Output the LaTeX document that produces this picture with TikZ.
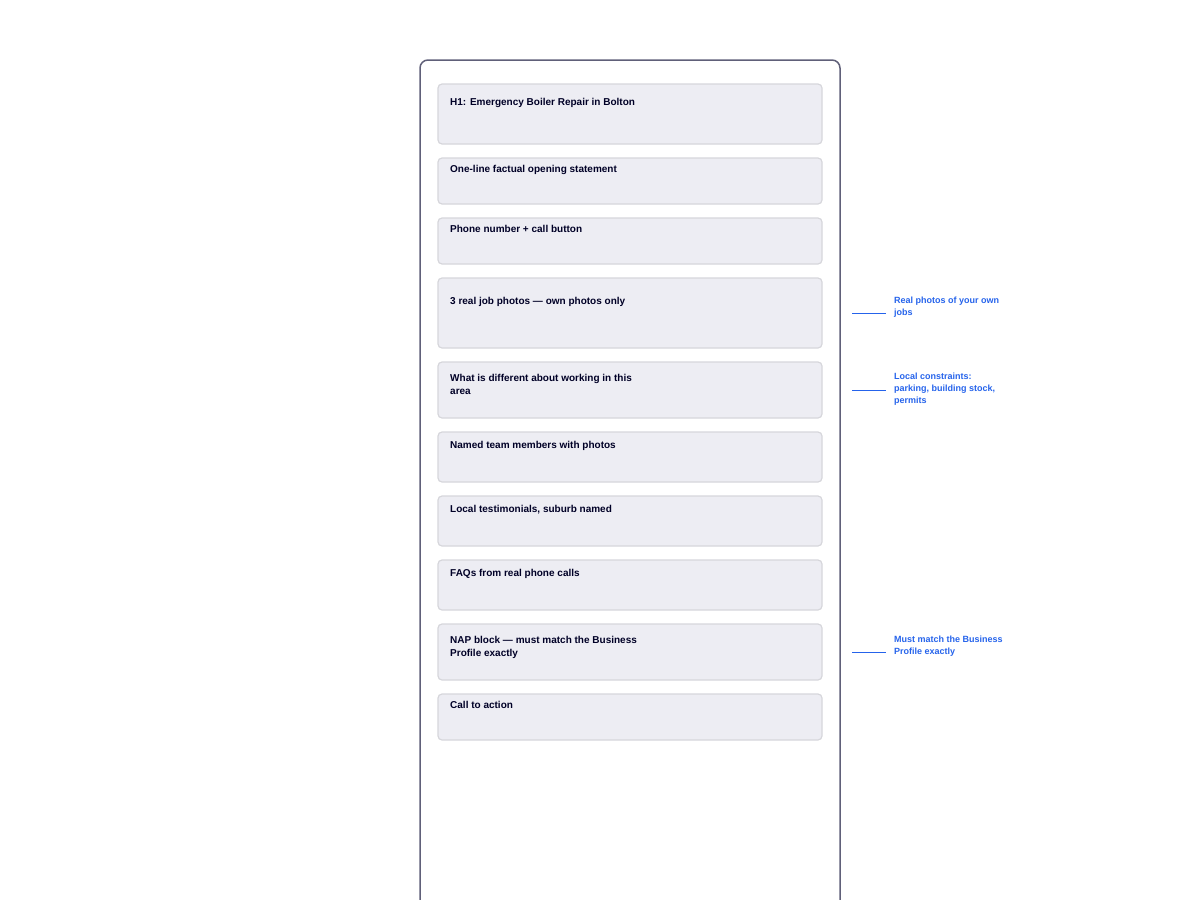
\documentclass[tikz,border=0pt]{standalone}
\usepackage{fontspec}
\setmainfont{Liberation Sans}
\begin{document}
\begin{tikzpicture}[x=1pt,y=-1pt,
  frame/.style={draw=black!60!blue!25!gray, line width=1.5pt, rounded corners=8pt},
  sec/.style={draw=black!15!blue!8!gray!30, fill=blue!20!gray!12, line width=1.2pt, rounded corners=4pt},
  lbl/.style={anchor=north west, inner sep=0pt, font=\bfseries\fontsize{10pt}{13pt}\selectfont, text=black!85!blue, align=left},
  note/.style={anchor=north west, inner sep=0pt, font=\bfseries\fontsize{9pt}{12pt}\selectfont, text={rgb,255:red,37;green,99;blue,235}, align=left},
  lead/.style={draw={rgb,255:red,37;green,99;blue,235}, line width=1pt}]
\useasboundingbox (0,0) rectangle (1200,900);
\begin{scope}
\clip (0,0) rectangle (1200,900);
\draw[frame] (420,940) -- (420,60) -- (840,60) -- (840,940);
\end{scope}
\foreach \t/\b/\n in {84/144/s1,158/204/s2,218/264/s3,278/348/s4,362/418/s5,432/482/s6,496/546/s7,560/610/s8,624/680/s9,694/740/s10}{
  \draw[sec] (438,\t) rectangle (822,\b);
}
\node[lbl] (t1) at (450,98) {H1: Emergency Boiler Repair in Bolton};
\node[lbl] (t2) at (450,165) {One-line factual opening statement};
\node[lbl] (t3) at (450,225) {Phone number + call button};
\node[lbl] (t4) at (450,297) {3 real job photos — own photos only};
\node[lbl] (t5) at (450,374) {What is different about working in this\\area};
\node[lbl] (t6) at (450,441) {Named team members with photos};
\node[lbl] (t7) at (450,505) {Local testimonials, suburb named};
\node[lbl] (t8) at (450,569) {FAQs from real phone calls};
\node[lbl] (t9) at (450,636) {NAP block — must match the Business\\Profile exactly};
\node[lbl] (t10) at (450,701) {Call to action};
\coordinate (a1) at (852,313); \coordinate (b1) at (886,313);
\coordinate (a2) at (852,390); \coordinate (b2) at (886,390);
\coordinate (a3) at (852,652); \coordinate (b3) at (886,652);
\draw[lead] (a1) -- (b1); \draw[lead] (a2) -- (b2); \draw[lead] (a3) -- (b3);
\node[note] (n1) at (894,297) {Real photos of your own\\jobs};
\node[note] (n2) at (894,373) {Local constraints:\\parking, building stock,\\permits};
\node[note] (n3) at (894,636) {Must match the Business\\Profile exactly};
\end{tikzpicture}
\end{document}
